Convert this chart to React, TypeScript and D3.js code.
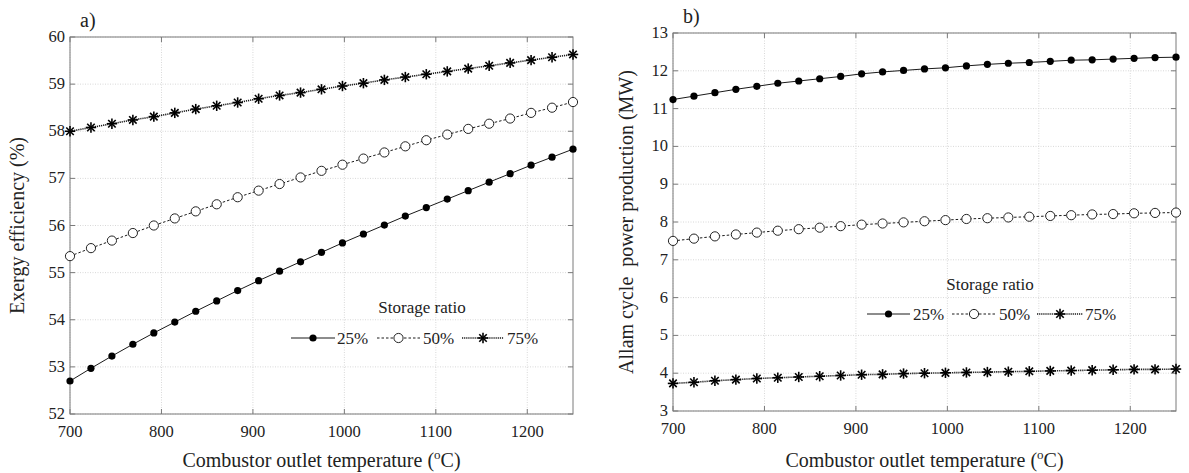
import React from "react";
import * as d3 from "d3";

const temps: number[] = d3.range(25).map((i) => 700 + (550 / 24) * i);

const effTicksX = [700, 800, 900, 1000, 1100, 1200];
const effTicksY = [52, 53, 54, 55, 56, 57, 58, 59, 60];
const powTicksY = [3, 4, 5, 6, 7, 8, 9, 10, 11, 12, 13];

const exergy25 = [52.70, 52.97, 53.23, 53.48, 53.72, 53.95, 54.18, 54.40, 54.62, 54.83, 55.03, 55.23, 55.43, 55.63, 55.82, 56.01, 56.20, 56.38, 56.56, 56.74, 56.92, 57.10, 57.28, 57.45, 57.62];
const exergy50 = [55.35, 55.52, 55.68, 55.84, 56.00, 56.15, 56.30, 56.45, 56.60, 56.74, 56.88, 57.02, 57.16, 57.29, 57.42, 57.55, 57.68, 57.81, 57.93, 58.05, 58.16, 58.27, 58.39, 58.50, 58.62];
const exergy75 = [58.00, 58.08, 58.16, 58.24, 58.31, 58.39, 58.47, 58.54, 58.61, 58.69, 58.76, 58.82, 58.89, 58.96, 59.02, 59.09, 59.15, 59.21, 59.27, 59.33, 59.39, 59.45, 59.51, 59.57, 59.63];

const power25 = [11.24, 11.33, 11.42, 11.51, 11.59, 11.67, 11.73, 11.79, 11.85, 11.92, 11.97, 12.01, 12.05, 12.08, 12.13, 12.17, 12.20, 12.22, 12.25, 12.28, 12.29, 12.31, 12.33, 12.35, 12.36];
const power50 = [7.50, 7.56, 7.62, 7.67, 7.72, 7.77, 7.81, 7.85, 7.89, 7.93, 7.96, 7.99, 8.02, 8.05, 8.08, 8.10, 8.12, 8.14, 8.16, 8.18, 8.20, 8.21, 8.23, 8.24, 8.25];
const power75 = [3.73, 3.76, 3.80, 3.83, 3.86, 3.88, 3.90, 3.92, 3.94, 3.96, 3.97, 3.99, 4.00, 4.01, 4.02, 4.03, 4.04, 4.05, 4.06, 4.07, 4.08, 4.09, 4.10, 4.10, 4.11];

const seriesNames = ["25%", "50%", "75%"];

const FONT = "Liberation Serif";
const AXIS_COLOR = "#7a7a7a";
const LINE_COLOR = "#1a1a1a";

type Style = { dash?: string; width: number; marker: "dot" | "circle" | "star" };
const styles: Style[] = [
  { width: 1, marker: "dot" },
  { dash: "2.5,2", width: 1, marker: "circle" },
  { dash: "1.2,0.9", width: 1.6, marker: "star" },
];

function Marker({ x, y, kind }: { x: number; y: number; kind: Style["marker"] }) {
  if (kind === "dot") return <circle cx={x} cy={y} r={3.6} fill="#000" />;
  if (kind === "circle") return <circle cx={x} cy={y} r={4.6} fill="#fff" stroke="#222" strokeWidth={1} />;
  const r = 5.2;
  const d = r * 0.72;
  return (
    <g stroke="#000" strokeWidth={1.6}>
      <line x1={x - r} y1={y} x2={x + r} y2={y} />
      <line x1={x} y1={y - r} x2={x} y2={y + r} />
      <line x1={x - d} y1={y - d} x2={x + d} y2={y + d} />
      <line x1={x - d} y1={y + d} x2={x + d} y2={y - d} />
    </g>
  );
}

function XLabel({ x, y }: { x: number; y: number }) {
  return (
    <text x={x} y={y} textAnchor="middle" fontFamily={FONT} fontSize={20} fill="#222">
      Combustor outlet temperature (
      <tspan fontSize={13} dy={-8}>o</tspan>
      <tspan dy={8}>C)</tspan>
    </text>
  );
}

type PanelProps = {
  left: number; top: number; width: number; height: number;
  yDomain: [number, number]; yTicks: number[];
  data: number[][]; letter: string; ylabel: string; ylabelX: number;
  xlabelY: number;
  legendCx: number; legendTitleY: number; legendRowY: number;
  legendItems: { x1: number; x2: number; tx: number }[];
};

function Panel(p: PanelProps) {
  const x = d3.scaleLinear().domain([700, 1250]).range([p.left, p.left + p.width]);
  const y = d3.scaleLinear().domain(p.yDomain).range([p.top + p.height, p.top]);
  const line = d3.line<number>().x((_, i) => x(temps[i])).y((v) => y(v));
  const bottom = p.top + p.height;
  const right = p.left + p.width;
  return (
    <g>
      {effTicksX.map((t) => (
        <line key={"gx" + t} x1={x(t)} x2={x(t)} y1={p.top} y2={bottom} stroke="#d8d8d8" strokeWidth={1} strokeDasharray="1,1.5" />
      ))}
      {p.yTicks.map((t) => (
        <line key={"gy" + t} x1={p.left} x2={right} y1={y(t)} y2={y(t)} stroke="#d8d8d8" strokeWidth={1} strokeDasharray="1,1.5" />
      ))}
      <rect x={p.left} y={p.top} width={p.width} height={p.height} fill="none" stroke={AXIS_COLOR} strokeWidth={1} />
      {effTicksX.map((t) => (
        <g key={"tx" + t} stroke={AXIS_COLOR}>
          <line x1={x(t)} x2={x(t)} y1={bottom} y2={bottom - 5} />
          <line x1={x(t)} x2={x(t)} y1={p.top} y2={p.top + 5} />
        </g>
      ))}
      {p.yTicks.map((t) => (
        <g key={"ty" + t} stroke={AXIS_COLOR}>
          <line x1={p.left} x2={p.left + 5} y1={y(t)} y2={y(t)} />
          <line x1={right} x2={right - 5} y1={y(t)} y2={y(t)} />
        </g>
      ))}
      {effTicksX.map((t) => (
        <text key={"lx" + t} x={x(t)} y={bottom + 23} textAnchor="middle" fontFamily={FONT} fontSize={16.5} fill="#222">{t}</text>
      ))}
      {p.yTicks.map((t) => (
        <text key={"ly" + t} x={p.left - 5} y={y(t) + 5} textAnchor="end" fontFamily={FONT} fontSize={16.5} fill="#222">{t}</text>
      ))}
      {p.data.map((vals, si) => (
        <g key={"s" + si}>
          <path d={line(vals) || ""} fill="none" stroke={LINE_COLOR} strokeWidth={styles[si].width} strokeDasharray={styles[si].dash} />
          {vals.map((v, i) => (
            <Marker key={i} x={x(temps[i])} y={y(v)} kind={styles[si].marker} />
          ))}
        </g>
      ))}
      <text x={p.legendCx} y={p.legendTitleY} textAnchor="middle" fontFamily={FONT} fontSize={17} fill="#222">Storage ratio</text>
      {p.legendItems.map((it, si) => (
        <g key={"lg" + si}>
          <line x1={it.x1} x2={it.x2} y1={p.legendRowY} y2={p.legendRowY} stroke={LINE_COLOR} strokeWidth={styles[si].width} strokeDasharray={styles[si].dash} />
          <Marker x={(it.x1 + it.x2) / 2} y={p.legendRowY} kind={styles[si].marker} />
          <text x={it.tx} y={p.legendRowY + 5.5} fontFamily={FONT} fontSize={17} fill="#222">{seriesNames[si]}</text>
        </g>
      ))}
      <text x={p.left + 10} y={p.top - 10} fontFamily={FONT} fontSize={20} fill="#222">{p.letter}</text>
      <text transform={`translate(${p.ylabelX},${p.top + p.height / 2}) rotate(-90)`} textAnchor="middle" fontFamily={FONT} fontSize={20} fill="#222" style={{ whiteSpace: "pre" }}>{p.ylabel}</text>
      <XLabel x={p.left + p.width / 2} y={p.xlabelY} />
    </g>
  );
}

export default function App() {
  return (
    <svg width={1189} height={473} style={{ position: "absolute", left: 0, top: 0, background: "#fff" }}>
      <rect width={1189} height={473} fill="#fff" />
      <Panel
        left={70} top={37} width={503} height={377}
        yDomain={[52, 60]} yTicks={effTicksY}
        data={[exergy25, exergy50, exergy75]}
        letter="a)" ylabel="Exergy efficiency (%)" ylabelX={24} xlabelY={467}
        legendCx={422} legendTitleY={313} legendRowY={338}
        legendItems={[
          { x1: 291, x2: 335, tx: 337 },
          { x1: 377, x2: 420, tx: 423 },
          { x1: 462, x2: 504, tx: 507 },
        ]}
      />
      <Panel
        left={673} top={33} width={503} height={378}
        yDomain={[3, 13]} yTicks={powTicksY}
        data={[power25, power50, power75]}
        letter="b)" ylabel={"Allam cycle  power production (MW)"} ylabelX={633} xlabelY={467}
        legendCx={990} legendTitleY={290} legendRowY={314}
        legendItems={[
          { x1: 867, x2: 910, tx: 913 },
          { x1: 952, x2: 996, tx: 999 },
          { x1: 1037, x2: 1083, tx: 1085 },
        ]}
      />
    </svg>
  );
}
